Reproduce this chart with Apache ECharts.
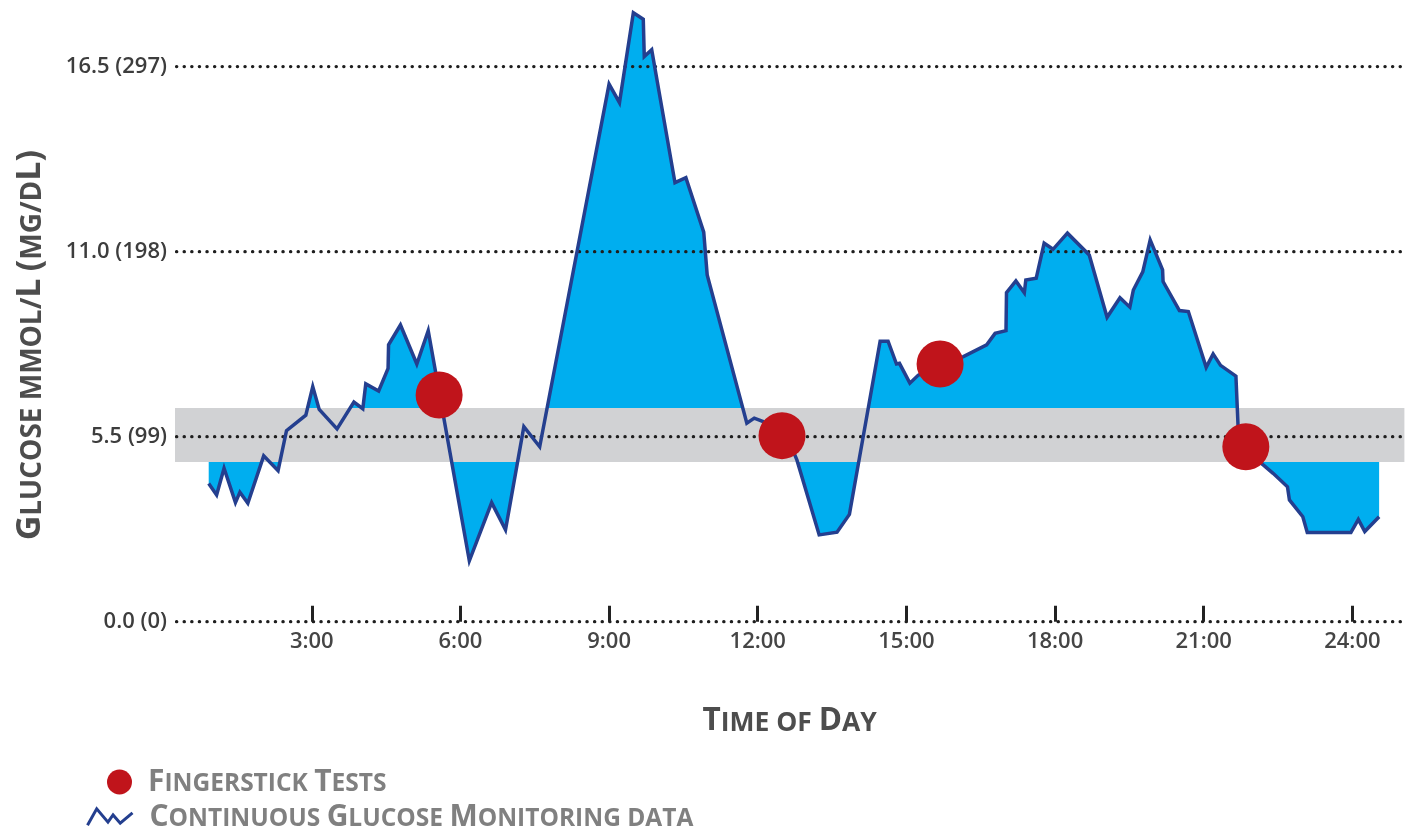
<!DOCTYPE html>
<html><head><meta charset="utf-8">
<script src="https://cdn.jsdelivr.net/npm/echarts@6/dist/echarts.min.js"></script>
<style>html,body{margin:0;padding:0;background:#fff}#chart{width:1413px;height:828px}</style>
</head><body><div id="chart"></div>
<script>
// ---- data ----
const cgmHours = [0.92,1.08,1.23,1.46,1.55,1.71,2.03,2.32,2.49,2.88,3.02,3.15,3.51,3.85,4.03,4.09,4.35,4.54,4.55,4.79,5.12,5.35,6.18,6.63,6.91,7.28,7.60,9.00,9.21,9.49,9.69,9.71,9.86,10.33,10.55,10.91,10.98,11.78,11.93,12.11,12.63,12.79,13.24,13.60,13.85,14.47,14.63,14.80,14.86,15.07,15.24,15.68,16.15,16.62,16.79,17.01,17.02,17.21,17.38,17.41,17.62,17.78,17.96,18.25,18.69,19.05,19.31,19.51,19.58,19.77,19.92,20.17,20.18,20.51,20.69,21.05,21.19,21.34,21.65,21.71,22.20,22.40,22.69,22.73,23.00,23.09,23.97,24.12,24.25,24.54];
const cgmValues = [4.11,3.77,4.56,3.54,3.85,3.52,4.93,4.49,5.68,6.14,6.99,6.31,5.73,6.53,6.33,7.07,6.86,7.53,8.23,8.82,7.66,8.65,1.81,3.54,2.73,5.80,5.20,15.98,15.43,18.10,17.91,16.80,17.00,13.05,13.20,11.58,10.31,5.90,6.05,5.95,5.37,4.81,2.58,2.66,3.19,8.34,8.34,7.66,7.68,7.09,7.33,7.62,7.88,8.23,8.57,8.65,9.78,10.13,9.78,10.16,10.21,11.25,11.07,11.55,10.90,9.05,9.63,9.35,9.86,10.40,11.35,10.46,10.11,9.25,9.22,7.56,7.96,7.62,7.30,5.25,4.66,4.41,4.01,3.62,3.12,2.65,2.65,3.04,2.68,3.12];
const fingerHours = [5.57, 12.49, 15.68, 21.85];
const fingerValues = [6.74, 5.53, 7.66, 5.20];
const targetBand = [4.75, 6.35];
const xTickValues = [3, 6, 9, 12, 15, 18, 21, 24];
const xTickLabels = ['3:00', '6:00', '9:00', '12:00', '15:00', '18:00', '21:00', '24:00'];
const yTickValues = [0, 5.5, 11, 16.5];
const yTickLabels = ['0.0 (0)', '5.5 (99)', '11.0 (198)', '16.5 (297)'];
const xAxisRange = [0.24, 25.05];
const yAxisRange = [0, 18.4];
const xTitle = 'Time of Day';
const yTitle = 'Glucose mmol/L (mg/dL)';
const fingerName = 'Fingerstick Tests';
const cgmName = 'Continuous Glucose Monitoring data';

// ---- helpers ----
function smallCaps(str) {
  let out = '', cur = null, buf = '';
  for (const ch of str) {
    const big = (ch !== ch.toLowerCase()) || /[()0-9]/.test(ch);
    const st = big ? 'c' : 's';
    if (cur !== null && st !== cur) { out += '{' + cur + '|' + buf + '}'; buf = ''; }
    cur = st; buf += big ? ch : ch.toUpperCase();
  }
  if (buf) out += '{' + cur + '|' + buf + '}';
  return out;
}
const FONT = '"Open Sans", "Noto Sans", sans-serif';
function capsRich(big, small, color, spacer) {
  return {
    c: {fontSize: big, lineHeight: big, fontWeight: 'bold', fontFamily: FONT, color: color, verticalAlign: 'bottom'},
    s: {fontSize: small, lineHeight: big, fontWeight: 'bold', fontFamily: FONT, color: color, verticalAlign: 'bottom'},
    sp: {width: spacer || 0, fontSize: small, lineHeight: big}
  };
}

const cgmData = cgmHours.map((h, i) => [h, cgmValues[i]]);
const fingerData = fingerHours.map((h, i) => [h, fingerValues[i]]);

const chart = echarts.init(document.getElementById('chart'), null, {renderer: 'canvas'});
chart.setOption({
  animation: false,
  backgroundColor: '#ffffff',
  grid: {left: 175, right: 8.6, top: 2.7, bottom: 206.3, containLabel: false, outerBoundsMode: 'none'},
  legend: [
    {
      data: [{name: fingerName, icon: 'circle'}],
      left: 107, top: 767, padding: 0, itemWidth: 25, itemHeight: 25, selectedMode: false,
      formatter: n => '{sp| }' + smallCaps(n),
      textStyle: {rich: capsRich(30, 24.5, '#808080', 11)}
    },
    {
      data: [{name: cgmName, icon: 'path://M0,17L9,1L20,14L25,7L32,15L44,5',
              itemStyle: {color: 'transparent', borderColor: '#243F8F', borderWidth: 3}}],
      left: 86, top: 802, padding: 0, itemWidth: 45, itemHeight: 17, selectedMode: false,
      formatter: n => '{sp| }' + smallCaps(n),
      textStyle: {rich: capsRich(30, 24.5, '#808080', 12)}
    }
  ],
  xAxis: {
    type: 'value', min: xAxisRange[0], max: xAxisRange[1], z: 10,
    axisLine: {show: false},
    splitLine: {show: false},
    axisTick: {show: true, customValues: xTickValues, inside: true, length: 16, lineStyle: {color: '#222', width: 3}},
    axisLabel: {customValues: xTickValues, margin: 9, fontSize: 22, fontWeight: 600, fontFamily: FONT, color: '#454545',
      formatter: v => xTickLabels[xTickValues.indexOf(v)]},
    name: smallCaps(xTitle), nameLocation: 'middle', nameGap: 84,
    nameTextStyle: {rich: capsRich(31.5, 26.5, '#4d4d4d')}
  },
  yAxis: {
    type: 'value', min: yAxisRange[0], max: yAxisRange[1],
    axisLine: {show: false}, axisTick: {show: false}, splitLine: {show: false},
    axisLabel: {customValues: yTickValues, margin: 8, fontSize: 22, fontWeight: 600, fontFamily: FONT, color: '#3d3d3d',
      formatter: v => yTickLabels[yTickValues.indexOf(v)]},
    name: smallCaps(yTitle), nameLocation: 'middle', nameRotate: 90, nameGap: 128,
    nameTextStyle: {rich: capsRich(34, 28, '#4d4d4d'), padding: [0, 66, 0, 0]}
  },
  series: [
    {
      name: 'fill', type: 'line', data: cgmData, z: 1, silent: true,
      symbol: 'none', lineStyle: {width: 0, opacity: 0},
      areaStyle: {color: '#00AEEF', opacity: 1, origin: targetBand[1]}
    },
    {
      name: 'band', type: 'custom', z: 2, silent: true, clip: false,
      data: [[targetBand[0], targetBand[1]]],
      renderItem: (params, api) => {
        const cs = params.coordSys;
        const yHi = api.coord([xAxisRange[0], api.value(1)])[1];
        const yLo = api.coord([xAxisRange[0], api.value(0)])[1];
        return {type: 'rect', shape: {x: cs.x, y: yHi, width: cs.width, height: yLo - yHi},
                style: {fill: '#D1D2D4'}};
      }
    },
    {
      name: 'grid', type: 'custom', z: 3, silent: true, clip: false,
      data: yTickValues.map(v => [xAxisRange[0], v]),
      renderItem: (params, api) => {
        const cs = params.coordSys;
        const y = api.coord([api.value(0), api.value(1)])[1];
        return {type: 'line', shape: {x1: cs.x + 1.5, y1: y, x2: cs.x + cs.width, y2: y},
                style: {stroke: '#1e1e1e', lineWidth: 3.2, lineDash: [0.3, 7.3], lineCap: 'round'}};
      }
    },
    {
      name: cgmName, type: 'line', data: cgmData, z: 4,
      symbol: 'none', showSymbol: false,
      lineStyle: {color: '#243F8F', width: 3.5, join: 'miter', miterLimit: 10},
      itemStyle: {color: '#243F8F'}
    },
    {
      name: fingerName, type: 'scatter', data: fingerData, z: 5,
      symbol: 'circle', symbolSize: 47,
      itemStyle: {color: '#C0141B', opacity: 1}
    }
  ]
});
</script>
</body></html>
